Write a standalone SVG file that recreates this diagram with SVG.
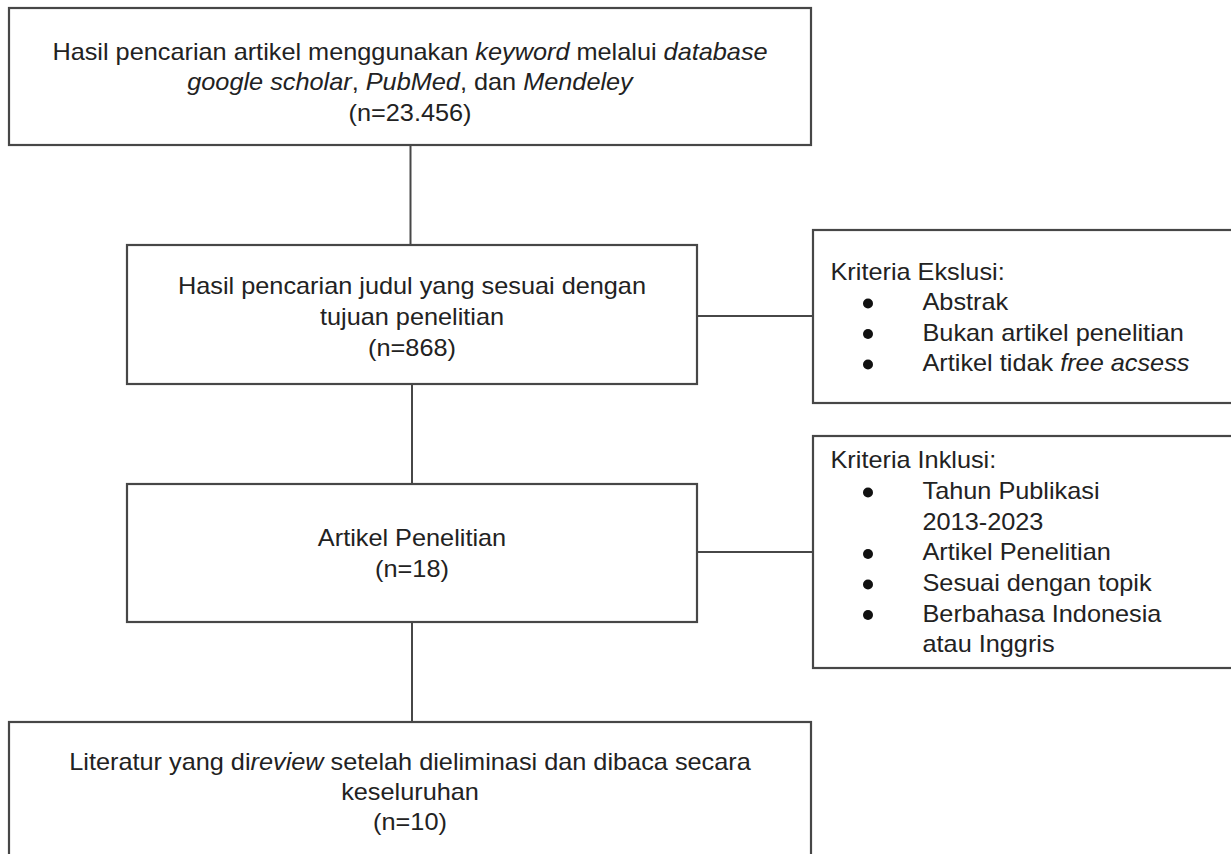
<svg xmlns="http://www.w3.org/2000/svg" width="1231" height="854" viewBox="0 0 1231 854">
<style>
.box{fill:#ffffff;stroke:#474747;stroke-width:2.2}
.con{stroke:#474747;stroke-width:2;fill:none}
text{font-family:"Liberation Sans",Arial,sans-serif;font-size:23px;fill:#222222}
.c{text-anchor:middle}
.i{font-style:italic}
.dot{fill:#111111}
</style>
<rect x="0" y="0" width="1231" height="854" fill="#ffffff"/>
<g id="connectors">
<line class="con" x1="410.5" y1="145" x2="410.5" y2="245"/>
<line class="con" x1="412" y1="384" x2="412" y2="484"/>
<line class="con" x1="412" y1="622" x2="412" y2="722"/>
<line class="con" x1="697" y1="316" x2="813" y2="316"/>
<line class="con" x1="697" y1="552" x2="813" y2="552"/>
</g>
<g id="node-search">
<rect class="box" x="9" y="8" width="802" height="137"/>
<text class="c" transform="translate(410 0) scale(1.1 1)" x="0" y="60">Hasil pencarian artikel menggunakan <tspan class="i">keyword</tspan> melalui <tspan class="i">database</tspan></text>
<text class="c" transform="translate(410 0) scale(1.1 1)" x="0" y="90.5"><tspan class="i">google scholar</tspan>, <tspan class="i">PubMed</tspan>, dan <tspan class="i">Mendeley</tspan></text>
<text class="c" transform="translate(410 0) scale(1.1 1)" x="0" y="121">(n=23.456)</text>
</g>
<g id="node-title">
<rect class="box" x="127" y="245" width="570" height="139"/>
<text class="c" transform="translate(412 0) scale(1.1 1)" x="0" y="294">Hasil pencarian judul yang sesuai dengan</text>
<text class="c" transform="translate(412 0) scale(1.1 1)" x="0" y="325">tujuan penelitian</text>
<text class="c" transform="translate(412 0) scale(1.1 1)" x="0" y="356">(n=868)</text>
</g>
<g id="node-article">
<rect class="box" x="127" y="484" width="570" height="138"/>
<text class="c" transform="translate(412 0) scale(1.1 1)" x="0" y="546">Artikel Penelitian</text>
<text class="c" transform="translate(412 0) scale(1.1 1)" x="0" y="577">(n=18)</text>
</g>
<g id="node-review">
<rect class="box" x="9" y="722" width="802" height="150"/>
<text class="c" transform="translate(410 0) scale(1.1 1)" x="0" y="770">Literatur yang di<tspan class="i">review</tspan> setelah dieliminasi dan dibaca secara</text>
<text class="c" transform="translate(410 0) scale(1.1 1)" x="0" y="800">keseluruhan</text>
<text class="c" transform="translate(410 0) scale(1.1 1)" x="0" y="830">(n=10)</text>
</g>
<g id="node-exclusion">
<rect class="box" x="813" y="230" width="430" height="173"/>
<text transform="translate(830.5 0) scale(1.1 1)" x="0" y="280">Kriteria Ekslusi:</text>
<circle class="dot" cx="868" cy="303.5" r="5"/>
<circle class="dot" cx="868" cy="334" r="5"/>
<circle class="dot" cx="868" cy="364.5" r="5"/>
<text transform="translate(922.5 0) scale(1.1 1)" x="0" y="310.5">Abstrak</text>
<text transform="translate(922.5 0) scale(1.1 1)" x="0" y="341">Bukan artikel penelitian</text>
<text transform="translate(922.5 0) scale(1.1 1)" x="0" y="371.5">Artikel tidak <tspan class="i">free acsess</tspan></text>
</g>
<g id="node-inclusion">
<rect class="box" x="813" y="436" width="430" height="232"/>
<text transform="translate(830.5 0) scale(1.1 1)" x="0" y="468.5">Kriteria Inklusi:</text>
<circle class="dot" cx="868" cy="492.5" r="5"/>
<circle class="dot" cx="868" cy="554" r="5"/>
<circle class="dot" cx="868" cy="584.5" r="5"/>
<circle class="dot" cx="868" cy="615" r="5"/>
<text transform="translate(922.5 0) scale(1.1 1)" x="0" y="499.3">Tahun Publikasi</text>
<text transform="translate(922.5 0) scale(1.1 1)" x="0" y="529.9">2013-2023</text>
<text transform="translate(922.5 0) scale(1.1 1)" x="0" y="560.5">Artikel Penelitian</text>
<text transform="translate(922.5 0) scale(1.1 1)" x="0" y="591.1">Sesuai dengan topik</text>
<text transform="translate(922.5 0) scale(1.1 1)" x="0" y="621.7">Berbahasa Indonesia</text>
<text transform="translate(922.5 0) scale(1.1 1)" x="0" y="652.3">atau Inggris</text>
</g>
</svg>
